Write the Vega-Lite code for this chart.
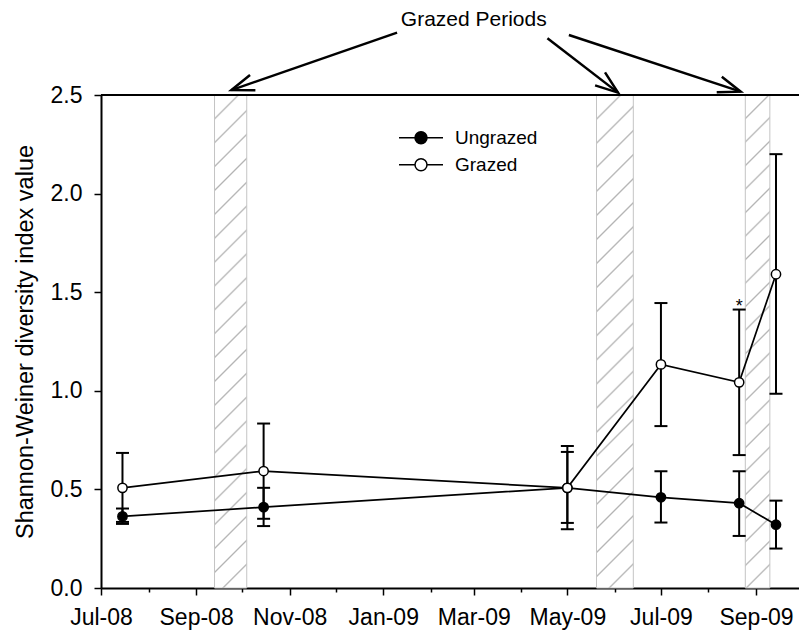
{
"$schema": "https://vega.github.io/schema/vega-lite/v6.json",
"width": 698,
"height": 493,
"autosize": {"type": "none"},
"padding": {"left": 101, "top": 95, "right": 0, "bottom": 48},
"background": "white",
"config": {"view": {"stroke": null}, "font": "Liberation Sans", "axis": {"grid": false, "domainColor": "black", "tickColor": "black", "labelColor": "black", "titleColor": "black"}},
"datasets": {
"obs": [
{"date": "2008-07-15", "series": "Ungrazed", "mean": 0.363, "lo": 0.325, "hi": 0.403},
{"date": "2008-10-15", "series": "Ungrazed", "mean": 0.410, "lo": 0.314, "hi": 0.508},
{"date": "2009-05-01", "series": "Ungrazed", "mean": 0.508, "lo": 0.330, "hi": 0.690},
{"date": "2009-07-01", "series": "Ungrazed", "mean": 0.460, "lo": 0.332, "hi": 0.592},
{"date": "2009-08-21", "series": "Ungrazed", "mean": 0.430, "lo": 0.264, "hi": 0.592},
{"date": "2009-09-14", "series": "Ungrazed", "mean": 0.321, "lo": 0.200, "hi": 0.443},
{"date": "2008-07-15", "series": "Grazed", "mean": 0.508, "lo": 0.335, "hi": 0.685},
{"date": "2008-10-15", "series": "Grazed", "mean": 0.593, "lo": 0.351, "hi": 0.834},
{"date": "2009-05-01", "series": "Grazed", "mean": 0.508, "lo": 0.298, "hi": 0.720},
{"date": "2009-07-01", "series": "Grazed", "mean": 1.134, "lo": 0.821, "hi": 1.445},
{"date": "2009-08-21", "series": "Grazed", "mean": 1.043, "lo": 0.674, "hi": 1.412},
{"date": "2009-09-14", "series": "Grazed", "mean": 1.591, "lo": 0.985, "hi": 2.200}
],
"bands": [
{"band": 1, "start": "2008-09-13", "end": "2008-10-04"},
{"band": 2, "start": "2009-05-20", "end": "2009-06-13"},
{"band": 3, "start": "2009-08-25", "end": "2009-09-10"}
],
"arrows": [
{"id": 1, "fromD": "2009-01-10", "fromV": 2.816, "toD": "2008-09-24", "toV": 2.525},
{"id": 2, "fromD": "2009-04-18", "fromV": 2.788, "toD": "2009-06-03", "toV": 2.512},
{"id": 3, "fromD": "2009-05-02", "fromV": 2.804, "toD": "2009-08-22", "toV": 2.517}
],
"notes": [
{"label": "Grazed Periods", "date": "2009-03-01", "v": 2.848},
{"label": "*", "date": "2009-08-21", "v": 1.40}
]
},
"layer": [
{
"data": {"name": "obs"},
"mark": {"type": "line", "color": "black", "strokeWidth": 1.7, "opacity": 0},
"encoding": {
"x": {"field": "date", "type": "temporal", "scale": {"domain": [{"year": 2008, "month": 7, "date": 1}, {"year": 2009, "month": 9, "date": 29}]},
"axis": {"title": null,
"values": [{"year": 2008, "month": 7, "date": 1}, {"year": 2008, "month": 8, "date": 1}, {"year": 2008, "month": 9, "date": 1}, {"year": 2008, "month": 10, "date": 1}, {"year": 2008, "month": 11, "date": 1}, {"year": 2008, "month": 12, "date": 1}, {"year": 2009, "month": 1, "date": 1}, {"year": 2009, "month": 2, "date": 1}, {"year": 2009, "month": 3, "date": 1}, {"year": 2009, "month": 4, "date": 1}, {"year": 2009, "month": 5, "date": 1}, {"year": 2009, "month": 6, "date": 1}, {"year": 2009, "month": 7, "date": 1}, {"year": 2009, "month": 8, "date": 1}, {"year": 2009, "month": 9, "date": 1}],
"labelExpr": "month(datum.value) % 2 == 0 ? timeFormat(datum.value, '%b-%y') : ''",
"tickSize": {"condition": {"test": "month(datum.value) % 2 == 0", "value": 7}, "value": 4},
"tickWidth": 1.5, "domainWidth": 2, "labelFontSize": 23, "labelPadding": 11.5, "labelOverlap": false, "labelFlush": false}},
"y": {"field": "mean", "type": "quantitative", "scale": {"domain": [0, 2.5], "nice": false},
"axis": {"title": "Shannon-Weiner diversity index value", "values": [0, 0.5, 1, 1.5, 2, 2.5], "format": ".1f", "tickSize": 7, "tickWidth": 1.5, "domainWidth": 2, "labelFontSize": 23, "labelPadding": 12, "titleFontSize": 23.5, "titleFontWeight": "normal", "titlePadding": 13}},
"detail": {"field": "series"}
}
},
{
"data": {"name": "bands"},
"transform": [{"filter": "datum.band == 1"}],
"mark": {"type": "rect", "stroke": "#c4c4c4", "strokeWidth": 1, "fill": {"gradient": "linear", "x1": 0, "y1": 0, "x2": 0.0693, "y2": 1.0608, "stops": [
{"offset": 0, "color": "#ffffff"},
{"offset": 0.042, "color": "#ffffff"}, {"offset": 0.0455, "color": "#b4b4b4"}, {"offset": 0.049, "color": "#ffffff"},
{"offset": 0.0874, "color": "#ffffff"}, {"offset": 0.0909, "color": "#b4b4b4"}, {"offset": 0.0944, "color": "#ffffff"},
{"offset": 0.1329, "color": "#ffffff"}, {"offset": 0.1364, "color": "#b4b4b4"}, {"offset": 0.1399, "color": "#ffffff"},
{"offset": 0.1783, "color": "#ffffff"}, {"offset": 0.1818, "color": "#b4b4b4"}, {"offset": 0.1853, "color": "#ffffff"},
{"offset": 0.2238, "color": "#ffffff"}, {"offset": 0.2273, "color": "#b4b4b4"}, {"offset": 0.2308, "color": "#ffffff"},
{"offset": 0.2692, "color": "#ffffff"}, {"offset": 0.2727, "color": "#b4b4b4"}, {"offset": 0.2762, "color": "#ffffff"},
{"offset": 0.3147, "color": "#ffffff"}, {"offset": 0.3182, "color": "#b4b4b4"}, {"offset": 0.3217, "color": "#ffffff"},
{"offset": 0.3601, "color": "#ffffff"}, {"offset": 0.3636, "color": "#b4b4b4"}, {"offset": 0.3671, "color": "#ffffff"},
{"offset": 0.4056, "color": "#ffffff"}, {"offset": 0.4091, "color": "#b4b4b4"}, {"offset": 0.4126, "color": "#ffffff"},
{"offset": 0.451, "color": "#ffffff"}, {"offset": 0.4545, "color": "#b4b4b4"}, {"offset": 0.458, "color": "#ffffff"},
{"offset": 0.4965, "color": "#ffffff"}, {"offset": 0.5, "color": "#b4b4b4"}, {"offset": 0.5035, "color": "#ffffff"},
{"offset": 0.5419, "color": "#ffffff"}, {"offset": 0.5455, "color": "#b4b4b4"}, {"offset": 0.549, "color": "#ffffff"},
{"offset": 0.5874, "color": "#ffffff"}, {"offset": 0.5909, "color": "#b4b4b4"}, {"offset": 0.5944, "color": "#ffffff"},
{"offset": 0.6329, "color": "#ffffff"}, {"offset": 0.6364, "color": "#b4b4b4"}, {"offset": 0.6399, "color": "#ffffff"},
{"offset": 0.6783, "color": "#ffffff"}, {"offset": 0.6818, "color": "#b4b4b4"}, {"offset": 0.6853, "color": "#ffffff"},
{"offset": 0.7238, "color": "#ffffff"}, {"offset": 0.7273, "color": "#b4b4b4"}, {"offset": 0.7308, "color": "#ffffff"},
{"offset": 0.7692, "color": "#ffffff"}, {"offset": 0.7727, "color": "#b4b4b4"}, {"offset": 0.7762, "color": "#ffffff"},
{"offset": 0.8147, "color": "#ffffff"}, {"offset": 0.8182, "color": "#b4b4b4"}, {"offset": 0.8217, "color": "#ffffff"},
{"offset": 0.8601, "color": "#ffffff"}, {"offset": 0.8636, "color": "#b4b4b4"}, {"offset": 0.8671, "color": "#ffffff"},
{"offset": 0.9056, "color": "#ffffff"}, {"offset": 0.9091, "color": "#b4b4b4"}, {"offset": 0.9126, "color": "#ffffff"},
{"offset": 0.951, "color": "#ffffff"}, {"offset": 0.9545, "color": "#b4b4b4"}, {"offset": 0.958, "color": "#ffffff"},
{"offset": 1, "color": "#ffffff"}
]}},
"encoding": {
"x": {"field": "start", "type": "temporal", "scale": {"domain": [{"year": 2008, "month": 7, "date": 1}, {"year": 2009, "month": 9, "date": 29}]}},
"x2": {"field": "end"},
"y": {"datum": 0, "type": "quantitative", "scale": {"domain": [0, 2.5], "nice": false}},
"y2": {"datum": 2.5}
}
},
{
"data": {"name": "bands"},
"transform": [{"filter": "datum.band == 2"}],
"mark": {"type": "rect", "stroke": "#c4c4c4", "strokeWidth": 1, "fill": {"gradient": "linear", "x1": 0, "y1": 0, "x2": 0.0797, "y2": 1.0687, "stops": [
{"offset": 0, "color": "#ffffff"},
{"offset": 0.042, "color": "#ffffff"}, {"offset": 0.0455, "color": "#b4b4b4"}, {"offset": 0.049, "color": "#ffffff"},
{"offset": 0.0874, "color": "#ffffff"}, {"offset": 0.0909, "color": "#b4b4b4"}, {"offset": 0.0944, "color": "#ffffff"},
{"offset": 0.1329, "color": "#ffffff"}, {"offset": 0.1364, "color": "#b4b4b4"}, {"offset": 0.1399, "color": "#ffffff"},
{"offset": 0.1783, "color": "#ffffff"}, {"offset": 0.1818, "color": "#b4b4b4"}, {"offset": 0.1853, "color": "#ffffff"},
{"offset": 0.2238, "color": "#ffffff"}, {"offset": 0.2273, "color": "#b4b4b4"}, {"offset": 0.2308, "color": "#ffffff"},
{"offset": 0.2692, "color": "#ffffff"}, {"offset": 0.2727, "color": "#b4b4b4"}, {"offset": 0.2762, "color": "#ffffff"},
{"offset": 0.3147, "color": "#ffffff"}, {"offset": 0.3182, "color": "#b4b4b4"}, {"offset": 0.3217, "color": "#ffffff"},
{"offset": 0.3601, "color": "#ffffff"}, {"offset": 0.3636, "color": "#b4b4b4"}, {"offset": 0.3671, "color": "#ffffff"},
{"offset": 0.4056, "color": "#ffffff"}, {"offset": 0.4091, "color": "#b4b4b4"}, {"offset": 0.4126, "color": "#ffffff"},
{"offset": 0.451, "color": "#ffffff"}, {"offset": 0.4545, "color": "#b4b4b4"}, {"offset": 0.458, "color": "#ffffff"},
{"offset": 0.4965, "color": "#ffffff"}, {"offset": 0.5, "color": "#b4b4b4"}, {"offset": 0.5035, "color": "#ffffff"},
{"offset": 0.5419, "color": "#ffffff"}, {"offset": 0.5455, "color": "#b4b4b4"}, {"offset": 0.549, "color": "#ffffff"},
{"offset": 0.5874, "color": "#ffffff"}, {"offset": 0.5909, "color": "#b4b4b4"}, {"offset": 0.5944, "color": "#ffffff"},
{"offset": 0.6329, "color": "#ffffff"}, {"offset": 0.6364, "color": "#b4b4b4"}, {"offset": 0.6399, "color": "#ffffff"},
{"offset": 0.6783, "color": "#ffffff"}, {"offset": 0.6818, "color": "#b4b4b4"}, {"offset": 0.6853, "color": "#ffffff"},
{"offset": 0.7238, "color": "#ffffff"}, {"offset": 0.7273, "color": "#b4b4b4"}, {"offset": 0.7308, "color": "#ffffff"},
{"offset": 0.7692, "color": "#ffffff"}, {"offset": 0.7727, "color": "#b4b4b4"}, {"offset": 0.7762, "color": "#ffffff"},
{"offset": 0.8147, "color": "#ffffff"}, {"offset": 0.8182, "color": "#b4b4b4"}, {"offset": 0.8217, "color": "#ffffff"},
{"offset": 0.8601, "color": "#ffffff"}, {"offset": 0.8636, "color": "#b4b4b4"}, {"offset": 0.8671, "color": "#ffffff"},
{"offset": 0.9056, "color": "#ffffff"}, {"offset": 0.9091, "color": "#b4b4b4"}, {"offset": 0.9126, "color": "#ffffff"},
{"offset": 0.951, "color": "#ffffff"}, {"offset": 0.9545, "color": "#b4b4b4"}, {"offset": 0.958, "color": "#ffffff"},
{"offset": 1, "color": "#ffffff"}
]}},
"encoding": {
"x": {"field": "start", "type": "temporal", "scale": {"domain": [{"year": 2008, "month": 7, "date": 1}, {"year": 2009, "month": 9, "date": 29}]}},
"x2": {"field": "end"},
"y": {"datum": 0, "type": "quantitative", "scale": {"domain": [0, 2.5], "nice": false}},
"y2": {"datum": 2.5}
}
},
{
"data": {"name": "bands"},
"transform": [{"filter": "datum.band == 3"}],
"mark": {"type": "rect", "stroke": "#c4c4c4", "strokeWidth": 1, "fill": {"gradient": "linear", "x1": 0, "y1": 0, "x2": 0.052, "y2": 1.0471, "stops": [
{"offset": 0, "color": "#ffffff"},
{"offset": 0.042, "color": "#ffffff"}, {"offset": 0.0455, "color": "#b4b4b4"}, {"offset": 0.049, "color": "#ffffff"},
{"offset": 0.0874, "color": "#ffffff"}, {"offset": 0.0909, "color": "#b4b4b4"}, {"offset": 0.0944, "color": "#ffffff"},
{"offset": 0.1329, "color": "#ffffff"}, {"offset": 0.1364, "color": "#b4b4b4"}, {"offset": 0.1399, "color": "#ffffff"},
{"offset": 0.1783, "color": "#ffffff"}, {"offset": 0.1818, "color": "#b4b4b4"}, {"offset": 0.1853, "color": "#ffffff"},
{"offset": 0.2238, "color": "#ffffff"}, {"offset": 0.2273, "color": "#b4b4b4"}, {"offset": 0.2308, "color": "#ffffff"},
{"offset": 0.2692, "color": "#ffffff"}, {"offset": 0.2727, "color": "#b4b4b4"}, {"offset": 0.2762, "color": "#ffffff"},
{"offset": 0.3147, "color": "#ffffff"}, {"offset": 0.3182, "color": "#b4b4b4"}, {"offset": 0.3217, "color": "#ffffff"},
{"offset": 0.3601, "color": "#ffffff"}, {"offset": 0.3636, "color": "#b4b4b4"}, {"offset": 0.3671, "color": "#ffffff"},
{"offset": 0.4056, "color": "#ffffff"}, {"offset": 0.4091, "color": "#b4b4b4"}, {"offset": 0.4126, "color": "#ffffff"},
{"offset": 0.451, "color": "#ffffff"}, {"offset": 0.4545, "color": "#b4b4b4"}, {"offset": 0.458, "color": "#ffffff"},
{"offset": 0.4965, "color": "#ffffff"}, {"offset": 0.5, "color": "#b4b4b4"}, {"offset": 0.5035, "color": "#ffffff"},
{"offset": 0.5419, "color": "#ffffff"}, {"offset": 0.5455, "color": "#b4b4b4"}, {"offset": 0.549, "color": "#ffffff"},
{"offset": 0.5874, "color": "#ffffff"}, {"offset": 0.5909, "color": "#b4b4b4"}, {"offset": 0.5944, "color": "#ffffff"},
{"offset": 0.6329, "color": "#ffffff"}, {"offset": 0.6364, "color": "#b4b4b4"}, {"offset": 0.6399, "color": "#ffffff"},
{"offset": 0.6783, "color": "#ffffff"}, {"offset": 0.6818, "color": "#b4b4b4"}, {"offset": 0.6853, "color": "#ffffff"},
{"offset": 0.7238, "color": "#ffffff"}, {"offset": 0.7273, "color": "#b4b4b4"}, {"offset": 0.7308, "color": "#ffffff"},
{"offset": 0.7692, "color": "#ffffff"}, {"offset": 0.7727, "color": "#b4b4b4"}, {"offset": 0.7762, "color": "#ffffff"},
{"offset": 0.8147, "color": "#ffffff"}, {"offset": 0.8182, "color": "#b4b4b4"}, {"offset": 0.8217, "color": "#ffffff"},
{"offset": 0.8601, "color": "#ffffff"}, {"offset": 0.8636, "color": "#b4b4b4"}, {"offset": 0.8671, "color": "#ffffff"},
{"offset": 0.9056, "color": "#ffffff"}, {"offset": 0.9091, "color": "#b4b4b4"}, {"offset": 0.9126, "color": "#ffffff"},
{"offset": 0.951, "color": "#ffffff"}, {"offset": 0.9545, "color": "#b4b4b4"}, {"offset": 0.958, "color": "#ffffff"},
{"offset": 1, "color": "#ffffff"}
]}},
"encoding": {
"x": {"field": "start", "type": "temporal", "scale": {"domain": [{"year": 2008, "month": 7, "date": 1}, {"year": 2009, "month": 9, "date": 29}]}},
"x2": {"field": "end"},
"y": {"datum": 0, "type": "quantitative", "scale": {"domain": [0, 2.5], "nice": false}},
"y2": {"datum": 2.5}
}
},
{
"data": {"values": [{}]},
"mark": {"type": "rule", "color": "black", "strokeWidth": 2},
"encoding": {
"y": {"datum": 2.5, "type": "quantitative", "scale": {"domain": [0, 2.5], "nice": false}}
}
},
{
"data": {"name": "obs"},
"mark": {"type": "line", "color": "black", "strokeWidth": 1.7},
"encoding": {
"x": {"field": "date", "type": "temporal", "scale": {"domain": [{"year": 2008, "month": 7, "date": 1}, {"year": 2009, "month": 9, "date": 29}]}},
"y": {"field": "mean", "type": "quantitative", "scale": {"domain": [0, 2.5], "nice": false}},
"detail": {"field": "series"}
}
},
{
"data": {"name": "obs"},
"mark": {"type": "rule", "color": "black", "strokeWidth": 2},
"encoding": {
"x": {"field": "date", "type": "temporal", "scale": {"domain": [{"year": 2008, "month": 7, "date": 1}, {"year": 2009, "month": 9, "date": 29}]}},
"y": {"field": "lo", "type": "quantitative", "scale": {"domain": [0, 2.5], "nice": false}},
"y2": {"field": "hi"}
}
},
{
"data": {"name": "obs"},
"mark": {"type": "tick", "orient": "horizontal", "color": "black", "size": 13, "thickness": 2, "opacity": 1},
"encoding": {
"x": {"field": "date", "type": "temporal", "scale": {"domain": [{"year": 2008, "month": 7, "date": 1}, {"year": 2009, "month": 9, "date": 29}]}},
"y": {"field": "lo", "type": "quantitative", "scale": {"domain": [0, 2.5], "nice": false}}
}
},
{
"data": {"name": "obs"},
"mark": {"type": "tick", "orient": "horizontal", "color": "black", "size": 13, "thickness": 2, "opacity": 1},
"encoding": {
"x": {"field": "date", "type": "temporal", "scale": {"domain": [{"year": 2008, "month": 7, "date": 1}, {"year": 2009, "month": 9, "date": 29}]}},
"y": {"field": "hi", "type": "quantitative", "scale": {"domain": [0, 2.5], "nice": false}}
}
},
{
"data": {"name": "obs"},
"mark": {"type": "point", "filled": true, "size": 86, "stroke": "black", "strokeWidth": 1.5, "opacity": 1},
"encoding": {
"x": {"field": "date", "type": "temporal", "scale": {"domain": [{"year": 2008, "month": 7, "date": 1}, {"year": 2009, "month": 9, "date": 29}]}},
"y": {"field": "mean", "type": "quantitative", "scale": {"domain": [0, 2.5], "nice": false}},
"fill": {"field": "series", "type": "nominal", "scale": {"domain": ["Ungrazed", "Grazed"], "range": ["black", "white"]},
"legend": {"orient": "none", "legendX": 309, "legendY": 31.7, "title": null, "padding": 0,
"symbolType": "M-2.2,0L-0.6,0M0.6,0L2.2,0M-0.6,0A0.6,0.6,0,1,1,0.6,0A0.6,0.6,0,1,1,-0.6,0Z",
"symbolSize": 400, "symbolStrokeColor": "black", "symbolStrokeWidth": 1.5, "symbolOpacity": 1,
"labelFontSize": 19, "labelColor": "black", "labelOffset": 23, "rowPadding": 6,
"encode": {"symbols": {"update": {"stroke": {"value": "black"}, "strokeWidth": {"value": 1.5}}}}}}
}
},
{
"data": {"name": "arrows"},
"mark": {"type": "rule", "color": "black", "strokeWidth": 2.5},
"encoding": {
"x": {"field": "fromD", "type": "temporal", "scale": {"domain": [{"year": 2008, "month": 7, "date": 1}, {"year": 2009, "month": 9, "date": 29}]}},
"y": {"field": "fromV", "type": "quantitative", "scale": {"domain": [0, 2.5], "nice": false}},
"x2": {"field": "toD"},
"y2": {"field": "toV"}
}
},
{
"data": {"name": "arrows"},
"transform": [{"filter": "datum.id == 1"}],
"mark": {"type": "point", "shape": "M-0.34,0.94L0,0L0.34,0.94", "size": 2304, "filled": false, "stroke": "black", "strokeWidth": 2.5, "opacity": 1, "angle": 250.8},
"encoding": {
"x": {"field": "toD", "type": "temporal", "scale": {"domain": [{"year": 2008, "month": 7, "date": 1}, {"year": 2009, "month": 9, "date": 29}]}},
"y": {"field": "toV", "type": "quantitative", "scale": {"domain": [0, 2.5], "nice": false}}
}
},
{
"data": {"name": "arrows"},
"transform": [{"filter": "datum.id == 2"}],
"mark": {"type": "point", "shape": "M-0.34,0.94L0,0L0.34,0.94", "size": 2304, "filled": false, "stroke": "black", "strokeWidth": 2.5, "opacity": 1, "angle": 127.4},
"encoding": {
"x": {"field": "toD", "type": "temporal", "scale": {"domain": [{"year": 2008, "month": 7, "date": 1}, {"year": 2009, "month": 9, "date": 29}]}},
"y": {"field": "toV", "type": "quantitative", "scale": {"domain": [0, 2.5], "nice": false}}
}
},
{
"data": {"name": "arrows"},
"transform": [{"filter": "datum.id == 3"}],
"mark": {"type": "point", "shape": "M-0.34,0.94L0,0L0.34,0.94", "size": 2304, "filled": false, "stroke": "black", "strokeWidth": 2.5, "opacity": 1, "angle": 108.2},
"encoding": {
"x": {"field": "toD", "type": "temporal", "scale": {"domain": [{"year": 2008, "month": 7, "date": 1}, {"year": 2009, "month": 9, "date": 29}]}},
"y": {"field": "toV", "type": "quantitative", "scale": {"domain": [0, 2.5], "nice": false}}
}
},
{
"data": {"name": "notes"},
"transform": [{"filter": "datum.label == 'Grazed Periods'"}],
"mark": {"type": "text", "fontSize": 21, "align": "center", "baseline": "alphabetic", "color": "black"},
"encoding": {
"x": {"field": "date", "type": "temporal", "scale": {"domain": [{"year": 2008, "month": 7, "date": 1}, {"year": 2009, "month": 9, "date": 29}]}},
"y": {"field": "v", "type": "quantitative", "scale": {"domain": [0, 2.5], "nice": false}},
"text": {"field": "label"}
}
},
{
"data": {"name": "notes"},
"transform": [{"filter": "datum.label == '*'"}],
"mark": {"type": "text", "fontSize": 18, "align": "center", "baseline": "alphabetic", "color": "black"},
"encoding": {
"x": {"field": "date", "type": "temporal", "scale": {"domain": [{"year": 2008, "month": 7, "date": 1}, {"year": 2009, "month": 9, "date": 29}]}},
"y": {"field": "v", "type": "quantitative", "scale": {"domain": [0, 2.5], "nice": false}},
"text": {"field": "label"}
}
}
]
}
